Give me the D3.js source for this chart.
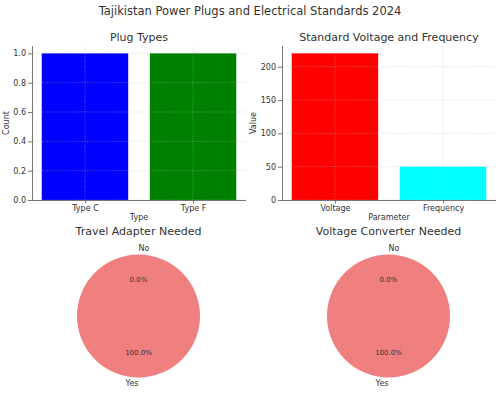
<!DOCTYPE html>
<html><head><meta charset="utf-8">
<script src="https://cdn.jsdelivr.net/npm/d3@7"></script>
<style>body{margin:0;background:#fff}svg{display:block}text{font-family:"DejaVu Sans",sans-serif;fill:#333}</style>
</head><body>
<svg id="c" width="500" height="399"></svg>
<script>
const plugTypes = ["Type C", "Type F"];
const plugCounts = [1, 1];
const plugColors = ["#0000ff", "#008000"];
const plugTicks = [0, 0.2, 0.4, 0.6, 0.8, 1.0];

const params = ["Voltage", "Frequency"];
const paramValues = [220, 50];
const paramColors = ["#ff0000", "#00ffff"];
const paramTicks = [0, 50, 100, 150, 200];

const pieLabels = ["Yes", "No"];
const adapterValues = [100, 0];
const converterValues = [100, 0];
const pieColor = "#f08080";

const svg = d3.select("#c");
svg.append("text").attr("x", 250).attr("y", 15).attr("text-anchor", "middle")
  .attr("font-size", 11.5).text("Tajikistan Power Plugs and Electrical Standards 2024");

function barChart(x0, x1, y0, y1, cats, vals, colors, ticks, fmt, title, xlab, ylab) {
  const g = svg.append("g");
  const x = d3.scaleLinear().domain([-0.49, cats.length - 1 + 0.49]).range([x0, x1]);
  const ymax = d3.max(vals) * 1.05;
  const y = d3.scaleLinear().domain([0, ymax]).range([y1, y0]);
  g.selectAll("rect.b").data(vals).join("rect")
    .attr("x", (d, i) => x(i - 0.4)).attr("width", (d, i) => x(i + 0.4) - x(i - 0.4))
    .attr("y", d => y(d)).attr("height", d => y(0) - y(d))
    .attr("fill", (d, i) => colors[i]);
  const grid = g.append("g").attr("stroke", "#b0b0b0").attr("stroke-opacity", 0.6)
    .attr("stroke-width", 0.8).attr("stroke-dasharray", "1,1.5");
  grid.selectAll("line.h").data(ticks).join("line")
    .attr("x1", x0).attr("x2", x1).attr("y1", d => y(d)).attr("y2", d => y(d));
  grid.selectAll("line.v").data(cats).join("line")
    .attr("x1", (d, i) => x(i)).attr("x2", (d, i) => x(i)).attr("y1", y0).attr("y2", y1);
  const ya = d3.axisLeft(y).tickValues(ticks).tickFormat(fmt).tickSize(4).tickPadding(2);
  const yg = g.append("g").attr("transform", `translate(${x0},0)`).call(ya);
  const xa = d3.axisBottom(x).tickValues(cats.map((d, i) => i)).tickFormat(i => cats[i]).tickSize(3.5).tickPadding(2);
  const xg = g.append("g").attr("transform", `translate(0,${y1})`).call(xa);
  [yg, xg].forEach(a => {
    a.selectAll("text").attr("font-size", 8).attr("font-family", "DejaVu Sans").attr("fill", "#333");
    a.selectAll("line").attr("stroke", "#555").attr("stroke-width", 0.8);
    a.select(".domain").attr("stroke", "#555").attr("stroke-width", 0.8);
  });
  xg.select(".domain").attr("d", `M${x0},0.5H${x1}`);
  yg.select(".domain").attr("d", `M0.5,${y0}V${y1}`);
  let maxW = 0;
  yg.selectAll("text").each(function () { maxW = Math.max(maxW, this.getComputedTextLength()); });
  const lx = x0 - 4 - 2 - maxW - 7.3;
  g.append("text").attr("x", (x0 + x1) / 2).attr("y", 41).attr("text-anchor", "middle")
    .attr("font-size", 11).text(title);
  g.append("text").attr("x", (x0 + x1) / 2).attr("y", 220).attr("text-anchor", "middle")
    .attr("font-size", 8).text(xlab);
  g.append("text").attr("transform", `translate(${lx},${(y0 + y1) / 2}) rotate(-90)`)
    .attr("text-anchor", "middle").attr("dy", "0.35em").attr("font-size", 8).text(ylab);
}

barChart(32, 246, 46, 200, plugTypes, plugCounts, plugColors, plugTicks, d3.format(".1f"), "Plug Types", "Type", "Count");
barChart(282, 496, 46, 200, params, paramValues, paramColors, paramTicks, d3.format("d"), "Standard Voltage and Frequency", "Parameter", "Value");

function pieChart(cx, cy, r, vals, title) {
  const g = svg.append("g").attr("transform", `translate(${cx},${cy})`);
  const total = d3.sum(vals);
  const pie = d3.pie().sort(null).value(d => d).startAngle(Math.PI).endAngle(3 * Math.PI);
  const arcs = pie(vals);
  const arc = d3.arc().innerRadius(0).outerRadius(r);
  g.selectAll("path").data(arcs).join("path").attr("d", arc).attr("fill", pieColor);
  let acc = 0;
  vals.forEach((v, i) => {
    const frac = v / total;
    const theta = (90 + 360 * (acc + frac / 2)) * Math.PI / 180;
    acc += frac;
    const lx = 1.1 * r * Math.cos(theta), ly = -1.1 * r * Math.sin(theta);
    g.append("text").attr("x", lx).attr("y", ly).attr("dy", "0.35em")
      .attr("text-anchor", Math.cos(theta) > 0 ? "start" : "end")
      .attr("font-size", 8).text(pieLabels[i]);
    const px = 0.6 * r * Math.cos(theta), py = -0.6 * r * Math.sin(theta);
    g.append("text").attr("x", px).attr("y", py).attr("dy", "0.35em")
      .attr("text-anchor", "middle").attr("font-size", 7)
      .text(d3.format(".1f")(frac * 100) + "%");
  });
  g.append("text").attr("x", 0).attr("y", 235 - cy).attr("text-anchor", "middle")
    .attr("font-size", 11).text(title);
}

pieChart(138.5, 316, 61.5, adapterValues, "Travel Adapter Needed");
pieChart(388.5, 316, 61.5, converterValues, "Voltage Converter Needed");
</script>
</body></html>
